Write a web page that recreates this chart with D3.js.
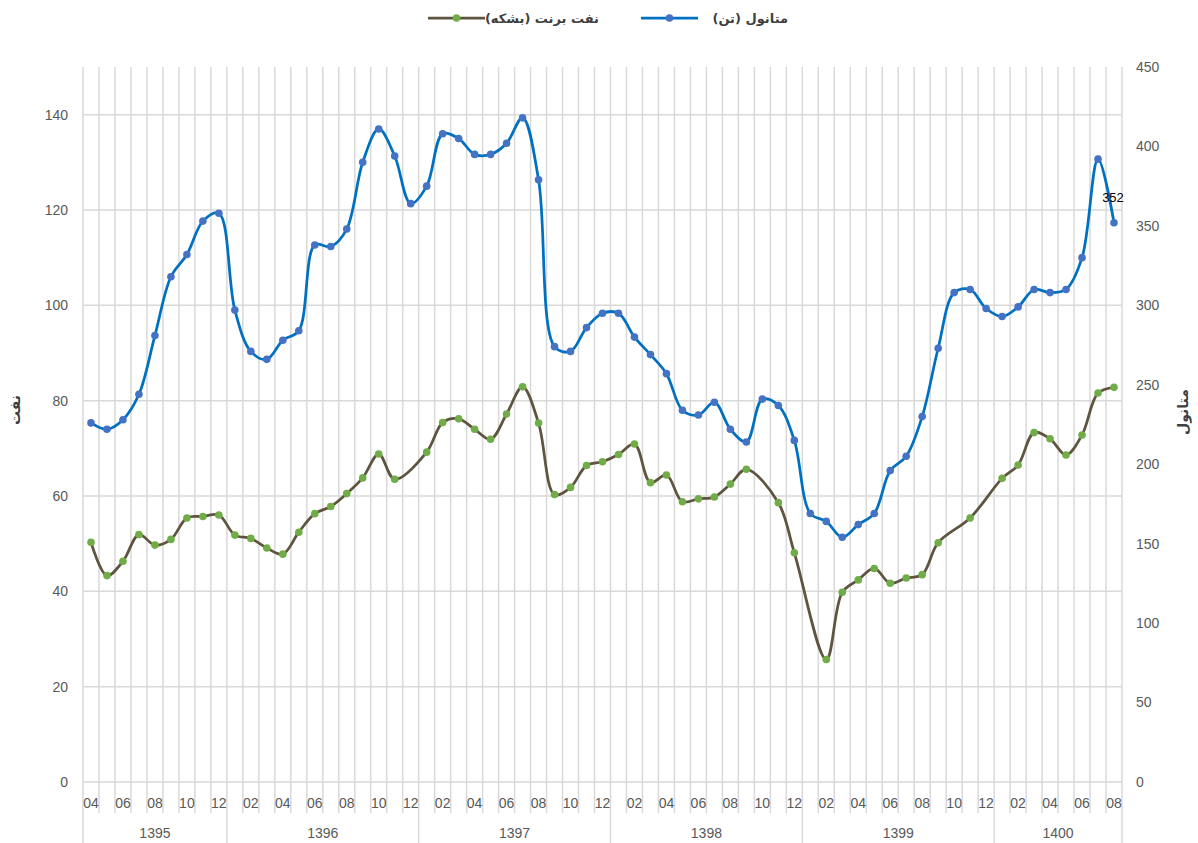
<!DOCTYPE html>
<html><head><meta charset="utf-8">
<script src="https://cdn.jsdelivr.net/npm/d3@7"></script>
<style>
body{margin:0;background:#fff;}
svg{display:block;}
</style></head>
<body>
<svg id="chart" width="1198" height="843"></svg>
<script>
const monthLabels = ["04","05","06","07","08","09","10","11","12",
 "01","02","03","04","05","06","07","08","09","10","11","12",
 "01","02","03","04","05","06","07","08","09","10","11","12",
 "01","02","03","04","05","06","07","08","09","10","11","12",
 "01","02","03","04","05","06","07","08","09","10","11","12",
 "01","02","03","04","05","06","07","08"];
const yearLabels = ["1395","1396","1397","1398","1399","1400"];
const yearMonthCounts = [9,12,12,12,12,8];

const methanol = [226,222,228,244,281,318,332,353,358,
 297,271,266,278,284,338,337,348,390,411,394,364,
 375,408,405,395,395,402,418,379,274,271,286,295,
 295,280,269,257,234,231,239,222,214,241,237,215,
 169,164,154,162,169,196,205,230,273,308,310,298,
 293,299,310,308,310,330,392,352];
const oil = [50.3,43.3,46.3,51.9,49.7,50.9,55.4,55.7,56.0,
 51.8,51.1,49.1,47.8,52.4,56.3,57.8,60.5,63.8,68.8,63.5,null,
 69.2,75.4,76.2,74.0,71.9,77.2,82.9,75.3,60.3,61.8,66.4,67.2,
 68.7,70.9,62.8,64.4,58.8,59.4,59.8,62.5,65.6,null,58.6,48.1,
 null,25.7,39.8,42.4,44.8,41.7,42.8,43.5,50.2,null,55.4,null,
 63.7,66.5,73.3,72.0,68.6,72.8,81.6,82.8];
const leftTicks = [0,20,40,60,80,100,120,140];
const rightTicks = [0,50,100,150,200,250,300,350,400,450];
const seriesNames = ["نفت برنت (بشکه)","متانول (تن)"];
const leftTitle = "نفت";
const rightTitle = "متانول";
const dataLabelIndex = 64;

const svg = d3.select("#chart");
const L = 83, R = 1122, T = 67, B = 782;
const idx = d3.range(monthLabels.length);
const x = d3.scaleBand().domain(idx).range([L, R]).padding(0);
const cx = i => x(i) + x.bandwidth()/2;
const yL = d3.scaleLinear().domain([0,150]).range([B, T]);
const yR = d3.scaleLinear().domain([0,450]).range([B, T]);
const grid = "#d9d9d9";
const numFont = "'Liberation Sans', Arial, sans-serif";
const faFont = "'DejaVu Sans', sans-serif";

svg.append("g").selectAll("line").data(leftTicks).join("line")
  .attr("x1", L).attr("x2", R).attr("y1", d=>yL(d)).attr("y2", d=>yL(d))
  .attr("stroke", grid).attr("stroke-width", 1.5);

const yearStarts = [];
let acc = 0;
yearMonthCounts.forEach(c => { yearStarts.push(acc); acc += c; });
const yearStartSet = new Set(yearStarts.concat([monthLabels.length]));

const bounds = d3.range(monthLabels.length + 1);
svg.append("g").selectAll("line").data(bounds).join("line")
  .attr("x1", i => i < monthLabels.length ? x(i) : R)
  .attr("x2", i => i < monthLabels.length ? x(i) : R)
  .attr("y1", T)
  .attr("y2", i => yearStartSet.has(i) ? 843 : 813)
  .attr("stroke", grid).attr("stroke-width", 1.5);

svg.append("g").selectAll("text").data(leftTicks).join("text")
  .attr("x", 68).attr("y", d => yL(d)).attr("dy", "0.35em")
  .attr("text-anchor", "end").attr("fill", "#595959")
  .style("font-family", numFont).style("font-size", "14px")
  .text(d => d);
svg.append("g").selectAll("text").data(rightTicks).join("text")
  .attr("x", 1136).attr("y", d => yR(d)).attr("dy", "0.35em")
  .attr("text-anchor", "start").attr("fill", "#595959")
  .style("font-family", numFont).style("font-size", "14px")
  .text(d => d);

svg.append("g").selectAll("text").data(idx.filter(i => i % 2 === 0)).join("text")
  .attr("x", i => cx(i)).attr("y", 803).attr("dy", "0.35em")
  .attr("text-anchor", "middle").attr("fill", "#595959")
  .style("font-family", numFont).style("font-size", "14px")
  .text(i => monthLabels[i]);
svg.append("g").selectAll("text").data(yearLabels).join("text")
  .attr("x", (d, k) => {
    const s = yearStarts[k], e = s + yearMonthCounts[k];
    const x1 = x(s), x2 = e < monthLabels.length ? x(e) : R;
    return (x1 + x2)/2;
  })
  .attr("y", 833).attr("dy", "0.35em")
  .attr("text-anchor", "middle").attr("fill", "#595959")
  .style("font-family", numFont).style("font-size", "14px")
  .text(d => d);

const curve = d3.curveCatmullRom.alpha(0.5);
const oilPts = idx.filter(i => oil[i] !== null).map(i => [cx(i), yL(oil[i])]);
const metPts = idx.map(i => [cx(i), yR(methanol[i])]);
const lineGen = d3.line().curve(curve);

svg.append("path").attr("d", lineGen(oilPts)).attr("fill", "none")
  .attr("stroke", "#5e5440").attr("stroke-width", 2.75).attr("stroke-linejoin","round");
svg.append("g").selectAll("circle").data(oilPts).join("circle")
  .attr("cx", d => d[0]).attr("cy", d => d[1]).attr("r", 3.8).attr("fill", "#70ad47");

svg.append("path").attr("d", lineGen(metPts)).attr("fill", "none")
  .attr("stroke", "#0070c0").attr("stroke-width", 2.75).attr("stroke-linejoin","round");
svg.append("g").selectAll("circle").data(metPts).join("circle")
  .attr("cx", d => d[0]).attr("cy", d => d[1]).attr("r", 3.8).attr("fill", "#4472c4");

svg.append("text")
  .attr("x", cx(dataLabelIndex) - 1).attr("y", yR(methanol[dataLabelIndex]) - 25).attr("dy","0.35em")
  .attr("text-anchor", "middle").attr("fill", "#000")
  .style("font-family", numFont).style("font-size", "13px")
  .text(methanol[dataLabelIndex]);

const legend = [
  {name: seriesNames[0], line: "#5e5440", dot: "#70ad47", x0: 428, tx: 599},
  {name: seriesNames[1], line: "#0070c0", dot: "#4472c4", x0: 641, tx: 788}
];
const lg = svg.append("g");
legend.forEach(d => {
  lg.append("line").attr("x1", d.x0).attr("x2", d.x0 + 57).attr("y1", 18).attr("y2", 18)
    .attr("stroke", d.line).attr("stroke-width", 2.75);
  lg.append("circle").attr("cx", d.x0 + 28.5).attr("cy", 18).attr("r", 3.8).attr("fill", d.dot);
  lg.append("text").attr("x", d.tx).attr("y", 18).attr("dy", "0.35em")
    .attr("text-anchor", "start").attr("direction", "rtl")
    .style("unicode-bidi", "embed")
    .attr("fill", "#404040").style("font-family", faFont)
    .style("font-size", "13px").style("font-weight", "bold").text(d.name);
});

svg.append("text").attr("transform", "translate(15,410) rotate(-90)")
  .attr("text-anchor", "middle").attr("dy", "0.35em").attr("direction","rtl")
  .attr("fill", "#404040").style("font-family", faFont)
  .style("font-size", "14px").style("font-weight", "bold").text(leftTitle);
svg.append("text").attr("transform", "translate(1183,412) rotate(-90)")
  .attr("text-anchor", "middle").attr("dy", "0.35em").attr("direction","rtl")
  .attr("fill", "#404040").style("font-family", faFont)
  .style("font-size", "14px").style("font-weight", "bold").text(rightTitle);
</script>
</body></html>
